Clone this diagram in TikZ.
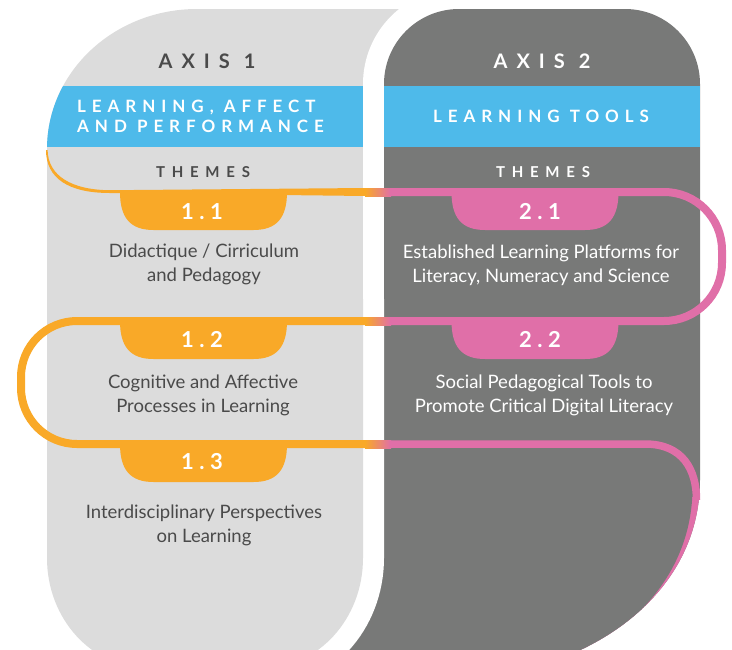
\documentclass[tikz,border=0pt]{standalone}
\usepackage{fontspec}
\setmainfont{Lato}
\newfontfamily\axisfont[LetterSpace=45]{Lato}
\newfontfamily\bandfont[LetterSpace=35]{Lato}
\newfontfamily\themefont[LetterSpace=45]{Lato}
\newfontfamily\tabfont[LetterSpace=25]{Lato}
\definecolor{lightpanel}{HTML}{DCDCDC}
\definecolor{darkpanel}{HTML}{787978}
\definecolor{bandblue}{HTML}{4EBAEA}
\definecolor{orangec}{HTML}{F9A928}
\definecolor{pinkc}{HTML}{E06FA8}
\definecolor{darktext}{HTML}{4A4A4A}
\tikzset{
  axislabel/.style={font=\axisfont\bfseries\fontsize{20}{20}\selectfont, inner sep=0pt},
  bandlabel/.style={font=\bandfont\bfseries\fontsize{17}{20}\selectfont, text=white, inner sep=0pt},
  themelabel/.style={font=\themefont\bfseries\fontsize{15}{15}\selectfont, inner sep=0pt},
  tablabel/.style={font=\tabfont\bfseries\fontsize{22}{22}\selectfont, text=white, inner sep=0pt},
  bodytext/.style={font=\fontsize{18.5}{24}\selectfont, align=center, inner sep=0pt},
  ribbon/.style={line width=8pt},
  themetab/.pic={\fill[pic actions] (-83.5,-2) -- (-83.5,0) .. controls (-83.5,26) and (-73,38) .. (-50,38) -- (50,38) .. controls (73,38) and (83.5,26) .. (83.5,0) -- (83.5,-2) -- cycle;}
}
\begin{document}
\begin{tikzpicture}[x=1pt,y=-1pt]
\useasboundingbox (0,0) rectangle (732,649);
% ---------- top zone: right panel over left panel
\begin{scope}
  \clip (0,0) rectangle (732,301);
  \fill[lightpanel] (47,420) -- (47,149) .. controls (47,71.7) and (114.2,9) .. (197,9) -- (440,9) -- (440,420) -- cycle;
  \begin{scope}
    \clip (47,420) -- (47,149) .. controls (47,71.7) and (114.2,9) .. (197,9) -- (440,9) -- (440,420) -- cycle;
    \fill[bandblue] (40,86) rectangle (440,147);
  \end{scope}
  \fill[darkpanel, preaction={draw=white, line width=42pt}] (384,420) -- (384,84) .. controls (384,42.6) and (417.6,9) .. (459,9) -- (625,9) .. controls (666.4,9) and (700,42.6) .. (700,84) -- (700,420) -- cycle;
  \fill[bandblue] (384,86) rectangle (700,147);
\end{scope}
% ---------- bottom zone: left panel over right panel
\begin{scope}
  \clip (0,299) rectangle (732,649);
  \fill[darkpanel] (330,200) -- (700,200) -- (700,480) .. controls (700,600) and (580,680) .. (440,680) -- (330,680) -- cycle;
  \begin{scope}
    \clip (560,497) rectangle (720,660);
    \clip (330,200) -- (700,200) -- (700,480) .. controls (700,600) and (580,680) .. (440,680) -- (330,680) -- cycle;
    \fill[pinkc] (500,400) rectangle (720,700);
    \fill[darkpanel, xshift=-7.5pt, yshift=-7.5pt] (330,200) -- (700,200) -- (700,480) .. controls (700,600) and (580,680) .. (440,680) -- (330,680) -- cycle;
  \end{scope}
  \fill[lightpanel, preaction={draw=white, line width=42pt}] (47,200) -- (47,558) .. controls (47,619) and (92,668) .. (147,668) -- (263,668) .. controls (318,668) and (363,619) .. (363,558) -- (363,200) -- cycle;
\end{scope}
% ---------- headers
\node[axislabel, text=darktext] (ax1) at (207,61) {AXIS 1};
\node[axislabel, text=white] (ax2) at (542,61) {AXIS 2};
\node[bandlabel, anchor=west, align=left] (b1) at (77,116) {LEARNING, AFFECT\\AND PERFORMANCE};
\node[bandlabel] (b2) at (541,116) {LEARNING TOOLS};
\node[themelabel, text=darktext] (th1) at (203,172) {THEMES};
\node[themelabel, text=white] (th2) at (543,172) {THEMES};
% ---------- tabs
\pic[orangec] (t11) at (203.5,192) {themetab};
\pic[orangec] (t12) at (203.5,321) {themetab};
\pic[orangec] (t13) at (203.5,444) {themetab};
\pic[pinkc] (t21) at (535,192) {themetab};
\pic[pinkc] (t22) at (535,321) {themetab};
% ---------- ribbon
\fill[orangec] (47.6,150) .. controls (48,176) and (72,190) .. (110,190.2) -- (366,188) -- (366,196) -- (110,193) .. controls (68,193) and (46,178) .. (46,150) -- cycle;
\shade[left color=orangec, right color=pinkc] (365,188) rectangle (391,196);
\shade[left color=orangec, right color=pinkc] (365,317) rectangle (391,325);
\shade[left color=orangec, right color=pinkc] (365,440) rectangle (391,448);
\draw[pinkc, ribbon, rounded corners=58pt] (390,192) -- (722,192) -- (722,321) -- (390,321);
\draw[orangec, ribbon, rounded corners=56pt] (366,321) -- (21,321) -- (21,444) -- (366,444);
\draw[pinkc, line width=7.5pt] (390,444) -- (645,444) .. controls (683,444) and (696.5,470) .. (696.5,500);
% ---------- tab numbers
\node[tablabel] (n11) at (202,212) {1.1};
\node[tablabel] (n21) at (540,212) {2.1};
\node[tablabel] (n12) at (202,340) {1.2};
\node[tablabel] (n22) at (540,340) {2.2};
\node[tablabel] (n13) at (202,462) {1.3};
% ---------- theme texts
\node[bodytext, text=darktext] (x11) at (204,264) {Didactique / Cirriculum\\and Pedagogy};
\node[bodytext, text=white] (x21) at (541,265) {Established Learning Platforms for\\Literacy, Numeracy and Science};
\node[bodytext, text=darktext] (x12) at (203,395) {Cognitive and Affective\\Processes in Learning};
\node[bodytext, text=white] (x22) at (544,395) {Social Pedagogical Tools to\\Promote Critical Digital Literacy};
\node[bodytext, text=darktext] (x13) at (204,525) {Interdisciplinary Perspectives\\on Learning};
\end{tikzpicture}
\end{document}
